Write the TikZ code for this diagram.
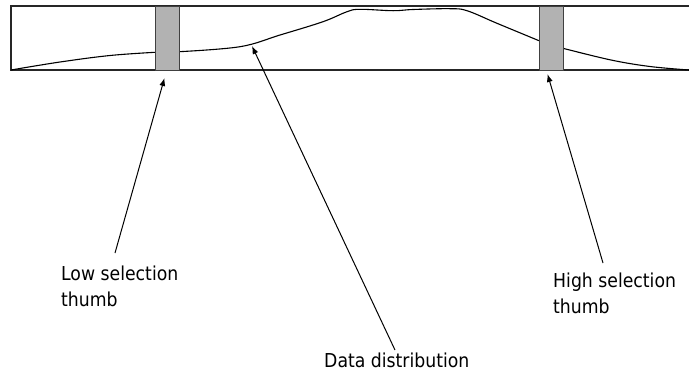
\documentclass[tikz,border=0pt]{standalone}
\usepackage{fontspec}
\setmainfont{DejaVu Sans Condensed}
\usetikzlibrary{arrows.meta}
\tikzset{
  frame/.style={draw=black!85, line width=1.1pt},
  thumb/.style={draw=black!75, fill=black!30, line width=1pt},
  dist/.style={draw=black, line width=1.1pt},
  pointer/.style={draw=black, line width=1pt, -{Latex[length=8pt,width=6pt]}},
  lbl/.style={inner sep=0pt, align=left, font=\fontsize{19.2}{25.5}\selectfont}
}
\begin{document}
\begin{tikzpicture}[x=1pt,y=-1pt]
\useasboundingbox (0,0) rectangle (689,373);
% frame
\draw[frame] (689,6) -- (11,6) -- (11,70) -- (689,70);
% distribution curve
\draw[dist] plot[smooth, tension=0.6] coordinates {(11,70) (60,62) (110,55.5) (155,52.3)};
\draw[dist] plot[smooth, tension=0.6] coordinates {(179,51.7) (240,46.7) (280,35) (323,21.7) (347,11.7) (360,9.3) (393,10.7) (413,9.5) (450,8.7) (467,10.7) (497,23.3) (539,40.7)};
\draw[dist] plot[smooth, tension=0.6] coordinates {(563,48.3) (611,60) (650,66.5) (689,70)};
% thumbs
\node[thumb, minimum width=24pt, minimum height=64pt, inner sep=0pt, anchor=north west] (lowthumb) at (155,6) {};
\node[thumb, minimum width=24pt, minimum height=64pt, inner sep=0pt, anchor=north west] (highthumb) at (539,6) {};
\coordinate (distpt) at (252,46);
% labels (base = last line)
\node[lbl, anchor=base west] (lowlbl) at (61,306) {Low selection\\thumb};
\node[lbl, anchor=base west] (highlbl) at (553,313) {High selection\\thumb};
\node[lbl, anchor=base west] (datalbl) at (324,367) {Data distribution};
% pointers
\coordinate (lowtail) at (115,253);
\coordinate (hightail) at (603,263);
\coordinate (datatail) at (395,350);
\draw[pointer] (lowtail) -- ([yshift=-7pt,xshift=-3pt]lowthumb.south);
\draw[pointer] (hightail) -- ([yshift=-3pt,xshift=-4pt]highthumb.south);
\draw[pointer] (datatail) -- (distpt);
\end{tikzpicture}
\end{document}
